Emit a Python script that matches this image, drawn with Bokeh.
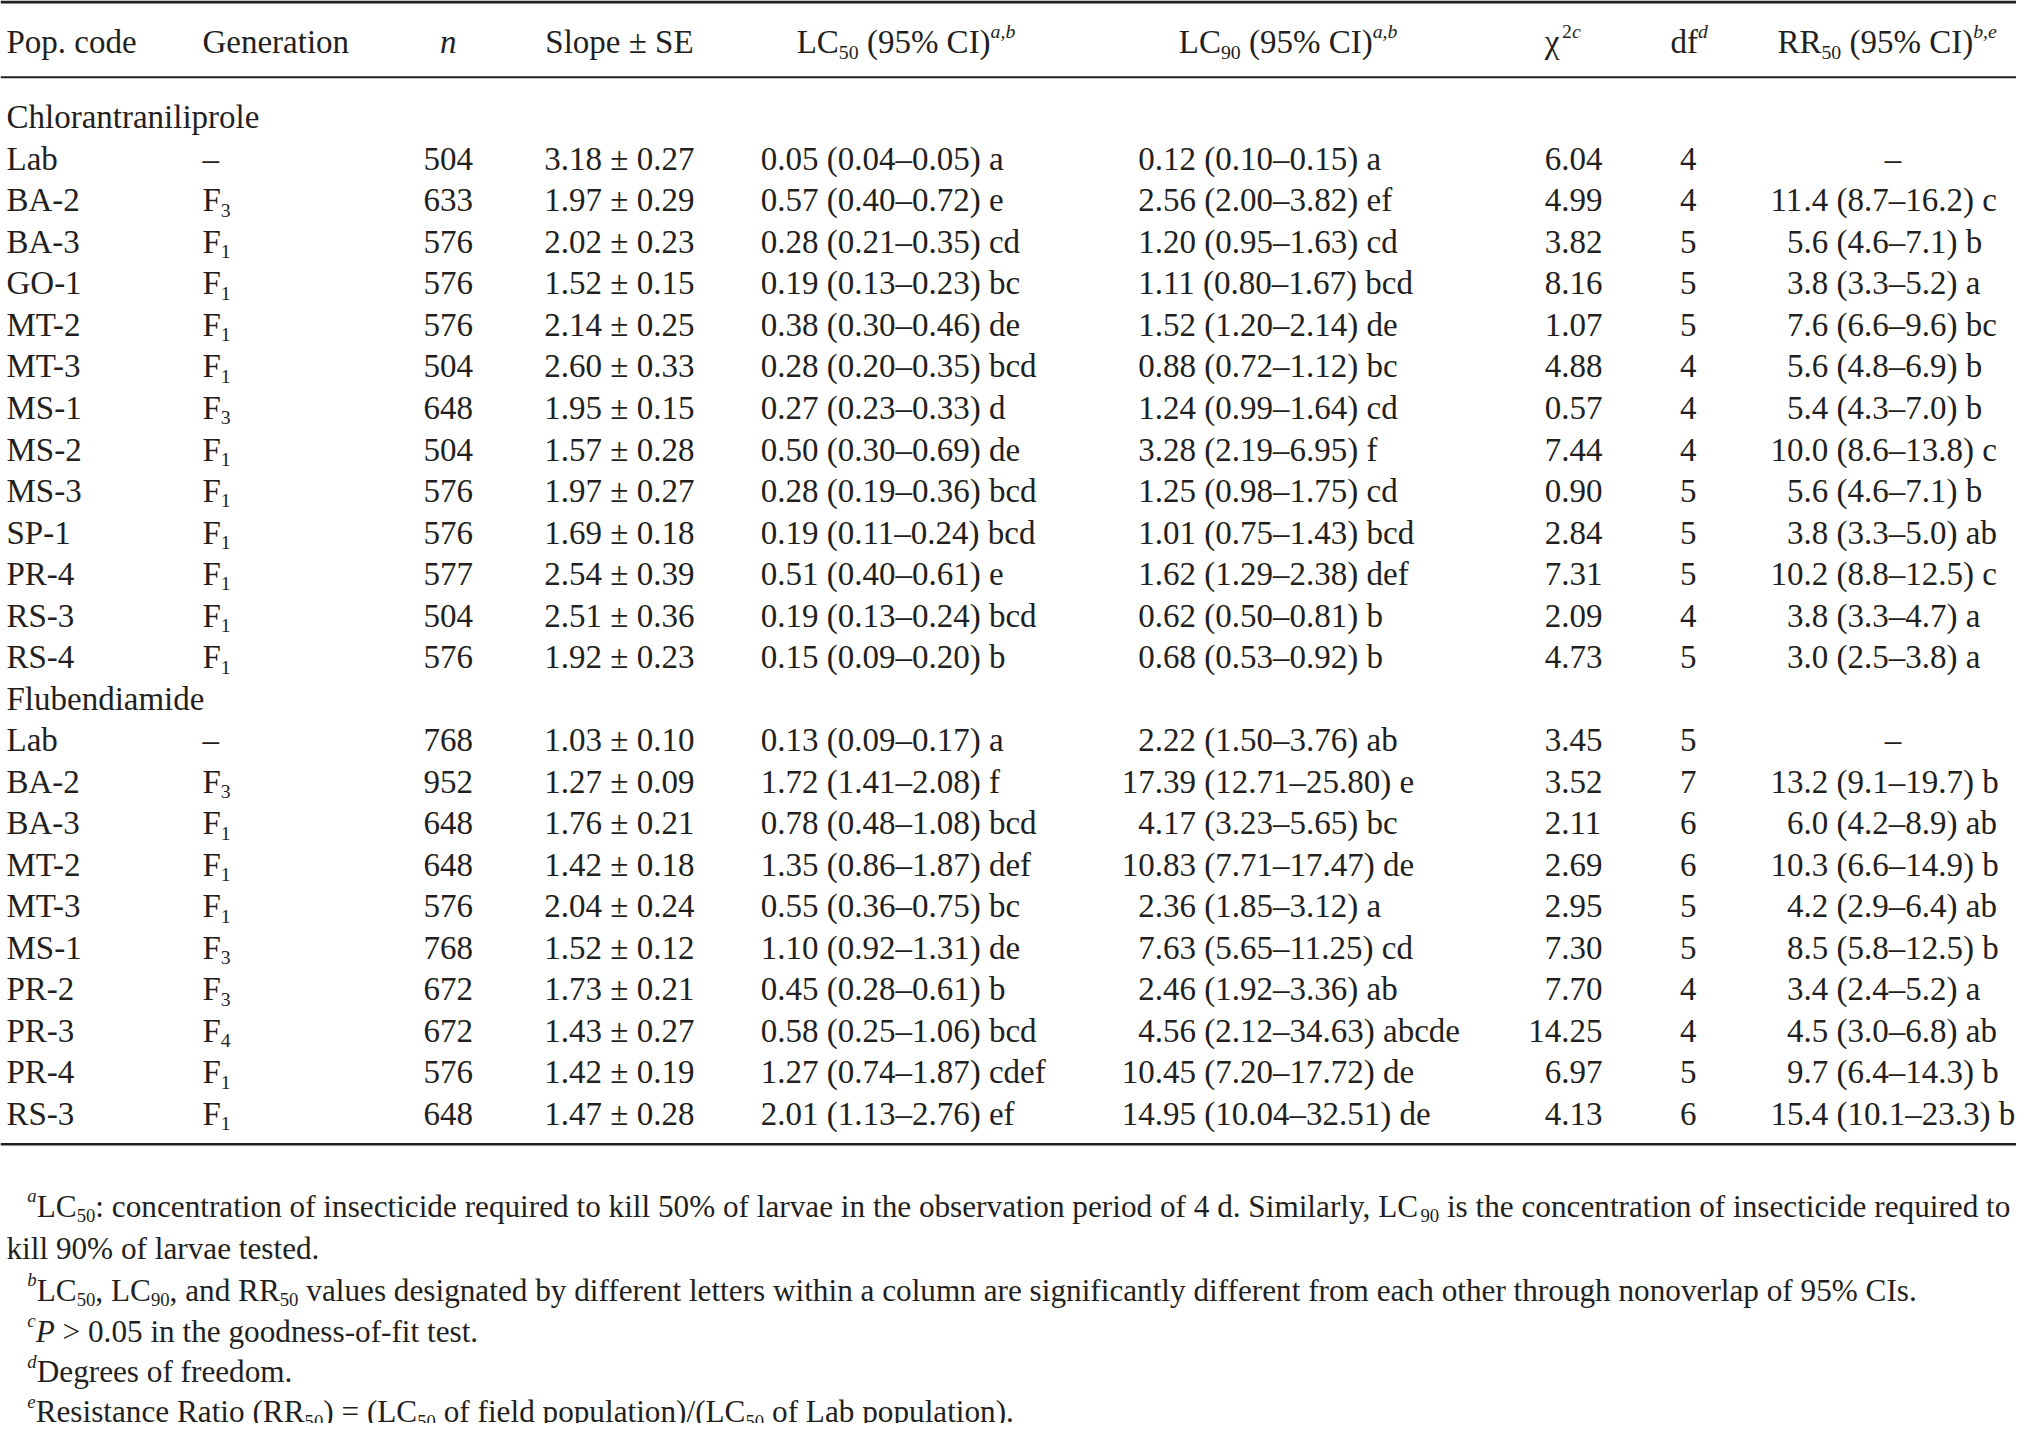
from bokeh.plotting import figure
from bokeh.models import ColumnDataSource, Range1d
from bokeh.core.properties import value
from bokeh.embed import file_html
from bokeh.resources import INLINE

# ---------------- data ----------------
chl_pop = ["Lab", "BA-2", "BA-3", "GO-1", "MT-2", "MT-3", "MS-1", "MS-2", "MS-3", "SP-1", "PR-4", "RS-3", "RS-4"]
chl_gen = ["–", "F3", "F1", "F1", "F1", "F1", "F3", "F1", "F1", "F1", "F1", "F1", "F1"]
chl_n = [504, 633, 576, 576, 576, 504, 648, 504, 576, 576, 577, 504, 576]
chl_slope = [3.18, 1.97, 2.02, 1.52, 2.14, 2.60, 1.95, 1.57, 1.97, 1.69, 2.54, 2.51, 1.92]
chl_se = [0.27, 0.29, 0.23, 0.15, 0.25, 0.33, 0.15, 0.28, 0.27, 0.18, 0.39, 0.36, 0.23]
chl_lc50 = [0.05, 0.57, 0.28, 0.19, 0.38, 0.28, 0.27, 0.50, 0.28, 0.19, 0.51, 0.19, 0.15]
chl_lc50_lo = [0.04, 0.40, 0.21, 0.13, 0.30, 0.20, 0.23, 0.30, 0.19, 0.11, 0.40, 0.13, 0.09]
chl_lc50_hi = [0.05, 0.72, 0.35, 0.23, 0.46, 0.35, 0.33, 0.69, 0.36, 0.24, 0.61, 0.24, 0.20]
chl_lc50_grp = ["a", "e", "cd", "bc", "de", "bcd", "d", "de", "bcd", "bcd", "e", "bcd", "b"]
chl_lc90 = [0.12, 2.56, 1.20, 1.11, 1.52, 0.88, 1.24, 3.28, 1.25, 1.01, 1.62, 0.62, 0.68]
chl_lc90_lo = [0.10, 2.00, 0.95, 0.80, 1.20, 0.72, 0.99, 2.19, 0.98, 0.75, 1.29, 0.50, 0.53]
chl_lc90_hi = [0.15, 3.82, 1.63, 1.67, 2.14, 1.12, 1.64, 6.95, 1.75, 1.43, 2.38, 0.81, 0.92]
chl_lc90_grp = ["a", "ef", "cd", "bcd", "de", "bc", "cd", "f", "cd", "bcd", "def", "b", "b"]
chl_chi2 = [6.04, 4.99, 3.82, 8.16, 1.07, 4.88, 0.57, 7.44, 0.90, 2.84, 7.31, 2.09, 4.73]
chl_df = [4, 4, 5, 5, 5, 4, 4, 4, 5, 5, 5, 4, 5]
chl_rr50 = [None, 11.4, 5.6, 3.8, 7.6, 5.6, 5.4, 10.0, 5.6, 3.8, 10.2, 3.8, 3.0]
chl_rr50_lo = [None, 8.7, 4.6, 3.3, 6.6, 4.8, 4.3, 8.6, 4.6, 3.3, 8.8, 3.3, 2.5]
chl_rr50_hi = [None, 16.2, 7.1, 5.2, 9.6, 6.9, 7.0, 13.8, 7.1, 5.0, 12.5, 4.7, 3.8]
chl_rr50_grp = [None, "c", "b", "a", "bc", "b", "b", "c", "b", "ab", "c", "a", "a"]

flu_pop = ["Lab", "BA-2", "BA-3", "MT-2", "MT-3", "MS-1", "PR-2", "PR-3", "PR-4", "RS-3"]
flu_gen = ["–", "F3", "F1", "F1", "F1", "F3", "F3", "F4", "F1", "F1"]
flu_n = [768, 952, 648, 648, 576, 768, 672, 672, 576, 648]
flu_slope = [1.03, 1.27, 1.76, 1.42, 2.04, 1.52, 1.73, 1.43, 1.42, 1.47]
flu_se = [0.10, 0.09, 0.21, 0.18, 0.24, 0.12, 0.21, 0.27, 0.19, 0.28]
flu_lc50 = [0.13, 1.72, 0.78, 1.35, 0.55, 1.10, 0.45, 0.58, 1.27, 2.01]
flu_lc50_lo = [0.09, 1.41, 0.48, 0.86, 0.36, 0.92, 0.28, 0.25, 0.74, 1.13]
flu_lc50_hi = [0.17, 2.08, 1.08, 1.87, 0.75, 1.31, 0.61, 1.06, 1.87, 2.76]
flu_lc50_grp = ["a", "f", "bcd", "def", "bc", "de", "b", "bcd", "cdef", "ef"]
flu_lc90 = [2.22, 17.39, 4.17, 10.83, 2.36, 7.63, 2.46, 4.56, 10.45, 14.95]
flu_lc90_lo = [1.50, 12.71, 3.23, 7.71, 1.85, 5.65, 1.92, 2.12, 7.20, 10.04]
flu_lc90_hi = [3.76, 25.80, 5.65, 17.47, 3.12, 11.25, 3.36, 34.63, 17.72, 32.51]
flu_lc90_grp = ["ab", "e", "bc", "de", "a", "cd", "ab", "abcde", "de", "de"]
flu_chi2 = [3.45, 3.52, 2.11, 2.69, 2.95, 7.30, 7.70, 14.25, 6.97, 4.13]
flu_df = [5, 7, 6, 6, 5, 5, 4, 4, 5, 6]
flu_rr50 = [None, 13.2, 6.0, 10.3, 4.2, 8.5, 3.4, 4.5, 9.7, 15.4]
flu_rr50_lo = [None, 9.1, 4.2, 6.6, 2.9, 5.8, 2.4, 3.0, 6.4, 10.1]
flu_rr50_hi = [None, 19.7, 8.9, 14.9, 6.4, 12.5, 5.2, 6.8, 14.3, 23.3]
flu_rr50_grp = [None, "b", "ab", "b", "ab", "b", "a", "ab", "b", "b"]

groups = ["Chlorantraniliprole", "Flubendiamide"]

# ---------------- layout ----------------
FONT = "Liberation Serif"
INK = "#231f20"
PW, PH = 2016, 1423
X0, X1 = 0, 2026          # reference-pixel window shown
Y0, Y1 = 6, 1433
SX, SY = PW / (X1 - X0), PH / (Y1 - Y0)
FS = 33.0

# Times / Liberation Serif advance widths (per 1000 em)
WN = {' ': 250, '!': 333, '(': 333, ')': 333, '%': 833, ',': 250, '-': 333, '.': 250, '/': 278,
      ':': 278, '=': 564, '>': 564, '±': 549, '–': 500, 'χ': 520}
for d in "0123456789":
    WN[d] = 500
WN.update(dict(zip("ABCDEFGHIJKLMNOPQRSTUVWXYZ",
                   [722, 667, 667, 722, 611, 556, 722, 722, 333, 389, 722, 611, 889, 722, 722, 556, 722, 667, 556, 611, 722, 722, 944, 722, 722, 611])))
WN.update(dict(zip("abcdefghijklmnopqrstuvwxyz",
                   [444, 500, 444, 500, 444, 333, 500, 500, 278, 278, 500, 278, 778, 500, 500, 500, 500, 333, 389, 278, 500, 500, 722, 500, 500, 444])))
WI = dict(WN)
WI.update({'a': 500, 'b': 500, 'c': 444, 'd': 500, 'e': 444, 'n': 500, 'P': 611, ',': 250})


def tw(s, size, italic):
    tab = WI if italic else WN
    return sum(tab.get(ch, 500) for ch in s) * size / 1000.0


GLY = {}


def put(x, y, t, size, style):
    k = (round(size, 2), style)
    d = GLY.setdefault(k, {"x": [], "y": [], "t": []})
    d["x"].append(x)
    d["y"].append(y)
    d["t"].append(t)


def kind_props(kind, fs):
    # size, style, baseline shift in px (+ = down)
    if kind == "n":
        return fs, "normal", 0.0
    if kind == "i":
        return fs, "italic", 0.0
    if kind == "sub":
        return fs * 0.6, "normal", fs * 0.30
    if kind == "sup":
        return fs * 0.6, "italic", -fs * 0.34
    if kind == "supn":
        return fs * 0.6, "normal", -fs * 0.34
    return fs, "normal", 0.0


def run_w(runs, fs):
    total = 0.0
    for t, k in runs:
        size, style, _ = kind_props(k, fs)
        total += tw(t, size, style == "italic") / SX
    return total


def draw(x, yb, runs, fs=FS, align="left"):
    total = run_w(runs, fs)
    if align == "center":
        x -= total / 2
    elif align == "right":
        x -= total
    for t, k in runs:
        size, style, dy = kind_props(k, fs)
        it = style == "italic"
        lead = len(t) - len(t.lstrip(" "))
        core = t.strip(" ")
        x += tw(" " * lead, size, it) / SX
        if core:
            put(x, yb + dy / SY, core, size, style)
        x += tw(t[lead:], size, it) / SX


def draw_dec(xd, yb, s, fs=FS):
    ip, rest = s.split(".", 1)
    draw(xd, yb, [(ip, "n")], fs, "right")
    draw(xd, yb, [("." + rest, "n")], fs, "left")


BASE = (0.331 * FS - 3) / SY  # from visual centre to baseline

# column anchors (reference pixel coordinates)
X_POP, X_GEN, X_N, X_SLOPE = 6, 203, 450, 622
X_LC50, X_LC90D, X_CHI_R, X_DF, X_RRD, X_RR_DASH = 764, 1160, 1610, 1696, 1812, 1902

# header
yh = 40 + BASE
draw(X_POP, yh, [("Pop. code", "n")])
draw(X_GEN, yh, [("Generation", "n")])
draw(X_N, yh, [("n", "i")], align="center")
draw(X_SLOPE, yh, [("Slope ± SE", "n")], align="center")
draw(910, yh, [("LC", "n"), ("50", "sub"), (" (95% CI)", "n"), ("a,b", "sup")], align="center")
draw(1294, yh, [("LC", "n"), ("90", "sub"), (" (95% CI)", "n"), ("a,b", "sup")], align="center")
draw(1552, yh, [("χ", "n"), ("2", "supn"), ("c", "sup")])
draw(1697, yh, [("df", "n"), ("d", "sup")], align="center")
draw(1896, yh, [("RR", "n"), ("50", "sub"), (" (95% CI)", "n"), ("b,e", "sup")], align="center")

ROW0, DY = 115.2, 41.64

tables = [
    (chl_pop, chl_gen, chl_n, chl_slope, chl_se, chl_lc50, chl_lc50_lo, chl_lc50_hi, chl_lc50_grp,
     chl_lc90, chl_lc90_lo, chl_lc90_hi, chl_lc90_grp, chl_chi2, chl_df, chl_rr50, chl_rr50_lo, chl_rr50_hi, chl_rr50_grp),
    (flu_pop, flu_gen, flu_n, flu_slope, flu_se, flu_lc50, flu_lc50_lo, flu_lc50_hi, flu_lc50_grp,
     flu_lc90, flu_lc90_lo, flu_lc90_hi, flu_lc90_grp, flu_chi2, flu_df, flu_rr50, flu_rr50_lo, flu_rr50_hi, flu_rr50_grp),
]

r = 0
for g, tb in zip(groups, tables):
    yb = ROW0 + r * DY + BASE
    draw(X_POP, yb, [(g, "n")])
    r += 1
    (pop, gen, nn, sl, se, l5, l5l, l5h, l5g, l9, l9l, l9h, l9g, chi, df, rr, rrl, rrh, rrg) = tb
    for i in range(len(pop)):
        yb = ROW0 + r * DY + BASE
        draw(X_POP, yb, [(pop[i], "n")])
        if gen[i].startswith("F"):
            draw(X_GEN, yb, [("F", "n"), (gen[i][1:], "sub")])
        else:
            draw(X_GEN, yb, [(gen[i], "n")])
        draw(X_N, yb, [(str(nn[i]), "n")], align="center")
        draw(X_SLOPE, yb, [(f"{sl[i]:.2f} ± {se[i]:.2f}", "n")], align="center")
        draw(X_LC50, yb, [(f"{l5[i]:.2f} ({l5l[i]:.2f}–{l5h[i]:.2f}) {l5g[i]}", "n")])
        draw_dec(X_LC90D, yb, f"{l9[i]:.2f} ({l9l[i]:.2f}–{l9h[i]:.2f}) {l9g[i]}")
        draw(X_CHI_R, yb, [(f"{chi[i]:.2f}", "n")], align="right")
        draw(X_DF, yb, [(str(df[i]), "n")], align="center")
        if rr[i] is None:
            draw(X_RR_DASH, yb, [("–", "n")], align="center")
        else:
            draw_dec(X_RRD, yb, f"{rr[i]:.1f} ({rrl[i]:.1f}–{rrh[i]:.1f}) {rrg[i]}")
        r += 1

# footnotes
foot1 = [("a", "sup"), ("LC", "n"), ("50", "sub"),
         (": concentration of insecticide required to kill 50% of larvae in the observation period of 4 d. Similarly, LC", "n"),
         ("90", "sub"), (" is the concentration of insecticide required to", "n")]
FF = FS * (2020 - 27) / run_w(foot1, FS)
BF = (0.331 * FF - 3) / SY
foot_rows = [1208, 1250, 1292, 1333, 1374, 1414]
draw(27, foot_rows[0] + BF, foot1, FF)
draw(6, foot_rows[1] + BF, [("kill 90% of larvae tested.", "n")], FF)
draw(27, foot_rows[2] + BF, [("b", "sup"), ("LC", "n"), ("50", "sub"), (", LC", "n"), ("90", "sub"), (", and RR", "n"), ("50", "sub"),
                             (" values designated by different letters within a column are significantly different from each other through nonoverlap of 95% CIs.", "n")], FF)
draw(27, foot_rows[3] + BF, [("c", "sup"), ("P", "i"), (" > 0.05 in the goodness-of-fit test.", "n")], FF)
draw(27, foot_rows[4] + BF, [("d", "sup"), ("Degrees of freedom.", "n")], FF)
draw(27, foot_rows[5] + BF, [("e", "sup"), ("Resistance Ratio (RR", "n"), ("50", "sub"), (") = (LC", "n"), ("50", "sub"),
                             (" of field population)/(LC", "n"), ("50", "sub"), (" of Lab population).", "n")], FF)

# ---------------- figure ----------------
p = figure(width=PW, height=PH, x_range=Range1d(X0, X1), y_range=Range1d(Y1, Y0),
           output_backend="svg", toolbar_location=None, x_axis_type=None, y_axis_type=None,
           title_location=None,
           min_border=0, min_border_left=0, min_border_right=0, min_border_top=0, min_border_bottom=0)
p.grid.visible = False
p.outline_line_color = None
p.background_fill_color = "white"
p.border_fill_color = "white"

# rules
rules_y = [7.5, 83, 1153]
rules_w = [3, 2, 2.5]
for yy, lw in zip(rules_y, rules_w):
    p.segment(x0=[X0], y0=[yy], x1=[X1], y1=[yy], line_color=INK, line_width=lw)

for (size, style), d in GLY.items():
    src = ColumnDataSource(dict(x=d["x"], y=d["y"], t=d["t"]))
    p.text(x="x", y="y", text="t", source=src, text_font=value(FONT),
           text_font_size=value(f"{size:.2f}px"), text_font_style=style,
           text_color=INK, text_baseline="alphabetic", text_align="left")

open("out.html", "w").write(file_html(p, INLINE))
